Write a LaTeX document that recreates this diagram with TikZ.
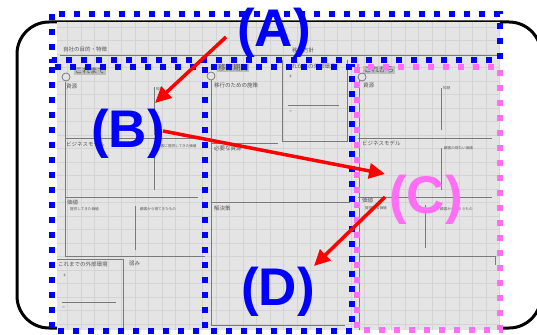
\documentclass[tikz,border=0pt]{standalone}
\usepackage{fontspec}
\setmainfont{Liberation Sans}
\newfontfamily\jp{Noto Sans CJK JP}
\usetikzlibrary{arrows.meta}
\definecolor{bgc}{HTML}{E4E4E4}
\definecolor{gridc}{HTML}{D4D4D4}
\definecolor{linec}{HTML}{7A7A7A}
\definecolor{txtc}{HTML}{555555}
\definecolor{tabc}{HTML}{BDBDBD}
\definecolor{pinkc}{HTML}{FF6EF5}
\begin{document}
\begin{tikzpicture}[x=1pt,y=-1pt,
  bracket/.style={draw=black,line width=3pt,rounded corners=32pt},
  pline/.style={draw=linec,line width=0.8pt},
  jtxt/.style={font=\jp\fontsize{5.5}{6}\selectfont,text=txtc,anchor=west,inner sep=0pt},
  jsmall/.style={font=\jp\fontsize{3.6}{4}\selectfont,text=txtc,anchor=west,inner sep=0pt},
  tabtxt/.style={font=\jp\fontsize{7.5}{8}\selectfont,text=txtc,fill=tabc,anchor=west,inner sep=1pt},
  dotblue/.style={draw=blue,line width=6pt,dash pattern=on 6pt off 9pt},
  dotpink/.style={draw=pinkc,line width=6pt,dash pattern=on 6pt off 9pt},
  biglabel/.style={font=\fontsize{53}{58}\selectfont\bfseries,inner sep=0pt,anchor=base},
  redarrow/.style={draw=red,line width=3.5pt,-{Triangle[length=16pt,width=15pt]}}]
\useasboundingbox (0,0) rectangle (537,334);
\begin{scope}
\clip (0,0) rectangle (537,334);
\draw[bracket] (17,22) rectangle (541,328);
\end{scope}
% screenshot background
\fill[bgc] (57,22) rectangle (500,330);
\begin{scope}
\clip (57,22) rectangle (500,330);
\draw[gridc,line width=0.5pt,step=13.5pt] (57,22) grid (500,330);
\end{scope}
% top band
\draw[pline] (60,55) -- (500,55);
\node[jtxt] (t1) at (63,49) {自社の目的・特徴};
\node[jtxt] (t2) at (292,50) {移行方針};
% tabs
\node[tabtxt] (tab1) at (74,71) {これまで};
\node[tabtxt] (tab2) at (217,68) {移行期間};
\node[tabtxt] (tab3) at (363,70) {これから};
\draw[linec,line width=0.8pt,fill=bgc] (66,77) circle (4);
\draw[linec,line width=0.8pt,fill=bgc] (211,76) circle (4);
\draw[linec,line width=0.8pt,fill=bgc] (362,77) circle (4);
% left panel
\draw[pline] (65,82) -- (65,256);
\draw[pline] (154,87) -- (154,135);
\draw[pline] (154,148) -- (154,190);
\draw[pline] (65,138) -- (205,138);
\draw[pline] (65,197) -- (198,197);
\draw[pline] (135,206) -- (135,250);
\draw[pline] (65,256) -- (205,256);
\draw[pline] (57,259) -- (123,259) -- (123,330);
\draw[pline] (62,302) -- (116,302);
\node[jtxt] (l1) at (66,86) {資源};
\node[jsmall] (l2) at (156,89) {知財};
\node[jtxt] (l3) at (66,144) {ビジネスモデル};
\node[jsmall] (l4) at (157,146) {顧客に提供してきた価値};
\node[jtxt] (l5) at (67,202) {価値};
\node[jsmall] (l6) at (70,209) {提供してきた価値};
\node[jsmall] (l7) at (140,209) {顧客から得てきたもの};
\node[jtxt] (l8) at (58,264) {これまでの外部環境};
\node[jtxt] (l9) at (63,276) {+};
\node[jtxt] (l10) at (62,308) {−};
\node[jtxt] (l11) at (129,264) {弱み};
% middle panel
\draw[pline] (211,80) -- (211,325);
\draw[pline] (282,60) -- (282,141) -- (347,141) -- (347,60);
\draw[pline] (288,105) -- (339,105);
\draw[pline] (211,143) -- (278,143);
\draw[pline] (211,202) -- (350,202);
\draw[pline] (211,325) -- (345,325);
\node[jtxt] (m1) at (214,85) {移行のための施策};
\node[jtxt] (m2) at (286,66) {これからの外部環境};
\node[jtxt] (m3) at (289,77) {+};
\node[jtxt] (m4) at (289,112) {−};
\node[jtxt] (m5) at (214,148) {必要な資源};
\node[jtxt] (m6) at (214,208) {解決策};
% right panel
\draw[pline] (359,80) -- (359,330);
\draw[pline] (441,88) -- (441,130);
\draw[pline] (358,138) -- (492,138);
\draw[pline] (441,148) -- (441,190);
\draw[pline] (358,197) -- (492,197);
\draw[pline] (425,205) -- (425,248);
\draw[pline] (360,256) -- (495,256) -- (495,265);
\node[jtxt] (r1) at (363,85) {資源};
\node[jsmall] (r2) at (443,88) {知財};
\node[jtxt] (r3) at (362,143) {ビジネスモデル};
\node[jsmall] (r4) at (444,148) {顧客の得たい価値};
\node[jtxt] (r5) at (362,200) {価値};
\node[jsmall] (r6) at (365,208) {提供する価値};
\node[jsmall] (r7) at (440,209) {顧客からもらうもの};
% dotted regions
\draw[dotblue] (52,14) rectangle (500,60);
\draw[dotpink] (357,67) rectangle (500,330);
\draw[dotblue] (52,67) rectangle (205,331);
\draw[dotblue] (205,67) rectangle (352,331);
% big labels
\node[biglabel,text=blue] (A) at (274,47) {(A)};
\node[biglabel,text=blue] (B) at (128,147) {(B)};
\node[biglabel,text=pinkc] (C) at (426,213) {(C)};
\node[biglabel,text=blue] (D) at (278,305) {(D)};
% arrows
\coordinate (a1s) at (226,37);
\coordinate (a1e) at (155,103);
\coordinate (a2s) at (163,131);
\coordinate (a2e) at (385,174);
\coordinate (a3s) at (385,197);
\coordinate (a3e) at (314,266);
\draw[redarrow] (a1s) -- (a1e);
\draw[redarrow] (a2s) -- (a2e);
\draw[redarrow] (a3s) -- (a3e);
\end{tikzpicture}
\end{document}
